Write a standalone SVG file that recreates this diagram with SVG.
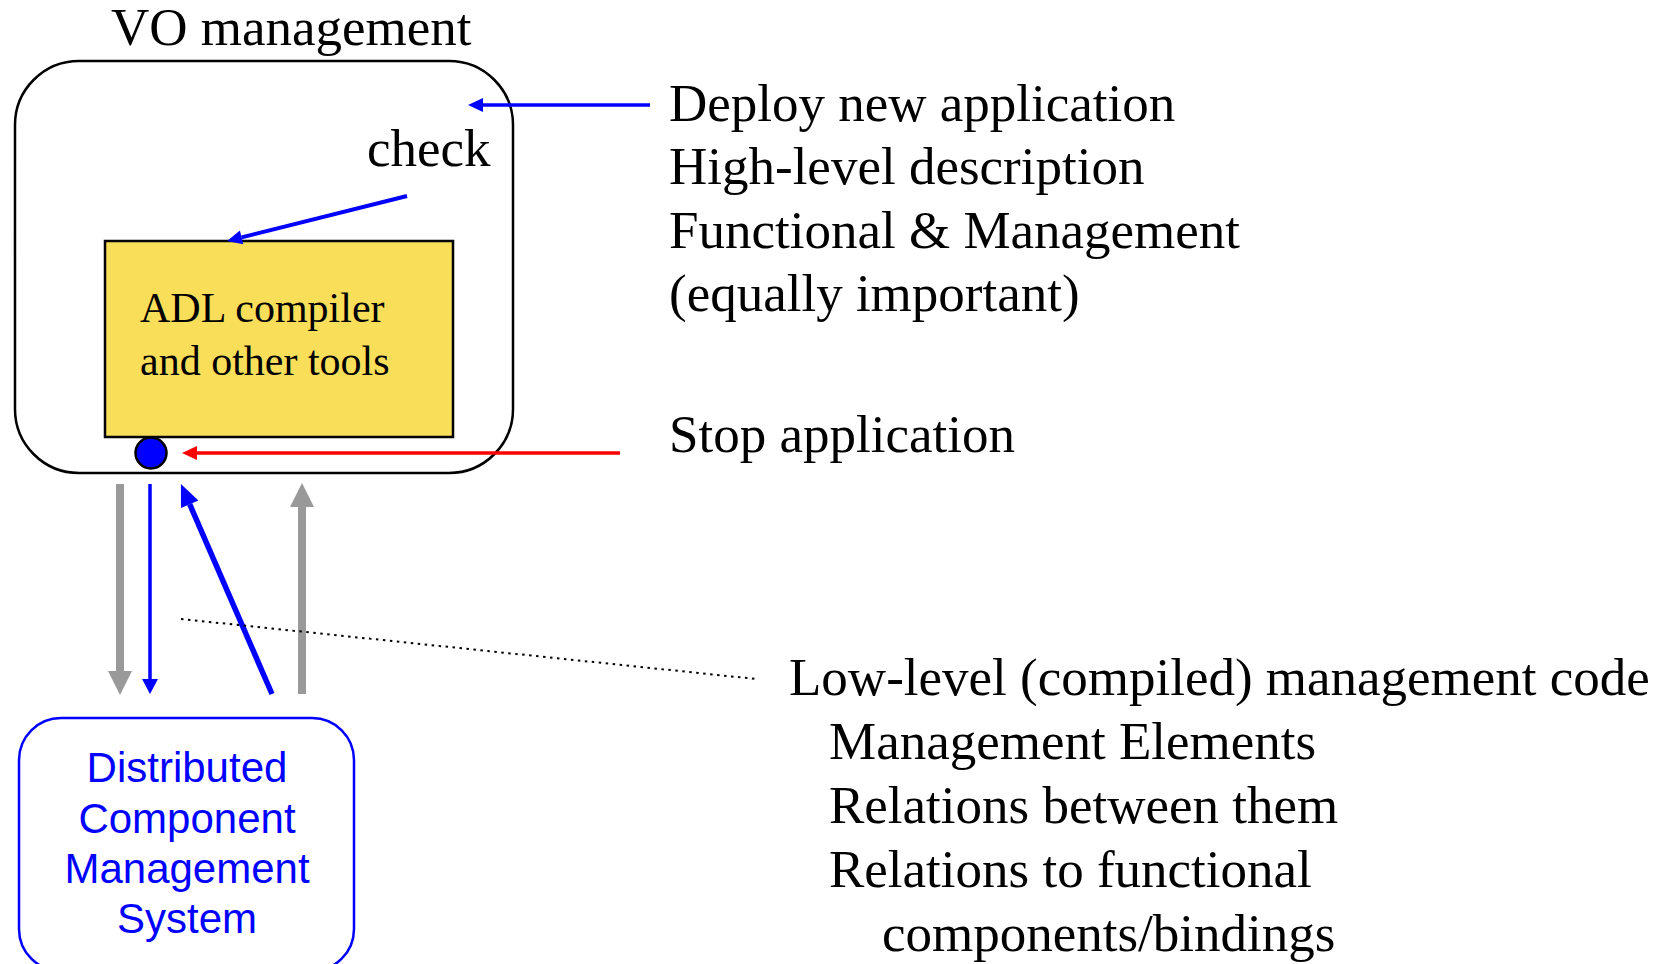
<svg xmlns="http://www.w3.org/2000/svg" width="1669" height="964" viewBox="0 0 1669 964">
  <style>
    .serif { font-family: "Liberation Serif", "Times New Roman", serif; fill: #000; }
    .big { font-size: 53px; }
    .mid { font-size: 42px; }
    .sans { font-family: "Liberation Sans", Arial, sans-serif; font-size: 42px; fill: #0000FF; text-anchor: middle; }
    .blue { stroke: #0000FF; fill: none; }
    .grey { stroke: #999999; fill: none; }
    .red { stroke: #FF0000; fill: none; }
  </style>
  <defs>
    <!-- arrowheads: origin sits at the head base, tip points along +x -->
    <marker id="headBlue" markerUnits="userSpaceOnUse" markerWidth="40" markerHeight="40" refX="0" refY="0" orient="auto" overflow="visible">
      <path d="M0,-7 L15,0 L0,7 Z" fill="#0000FF"/>
    </marker>
    <marker id="headBlueDown" markerUnits="userSpaceOnUse" markerWidth="40" markerHeight="40" refX="0" refY="0" orient="auto" overflow="visible">
      <path d="M0,-8 L15,0 L0,8 Z" fill="#0000FF"/>
    </marker>
    <marker id="headBlueBig" markerUnits="userSpaceOnUse" markerWidth="40" markerHeight="40" refX="0" refY="0" orient="auto" overflow="visible">
      <path d="M0,-9.5 L22,0 L0,9.5 Z" fill="#0000FF"/>
    </marker>
    <marker id="headRed" markerUnits="userSpaceOnUse" markerWidth="40" markerHeight="40" refX="0" refY="0" orient="auto" overflow="visible">
      <path d="M0,-7 L15,0 L0,7 Z" fill="#FF0000"/>
    </marker>
    <marker id="headGrey" markerUnits="userSpaceOnUse" markerWidth="40" markerHeight="40" refX="0" refY="0" orient="auto" overflow="visible">
      <path d="M0,-12 L24,0 L0,12 Z" fill="#999999"/>
    </marker>
  </defs>

  <rect width="1669" height="964" fill="#FFFFFF"/>

  <!-- VO management container -->
  <g id="vo-management">
    <rect x="15" y="61" width="498" height="412" rx="64" ry="64" fill="none" stroke="#000" stroke-width="2.5"/>
    <text class="serif big" x="111" y="45">VO management</text>
    <text class="serif big" x="367" y="166">check</text>
  </g>

  <!-- ADL compiler box -->
  <g id="adl-compiler">
    <rect x="105" y="241" width="348" height="196" fill="#F9DE59" stroke="#000" stroke-width="2.5"/>
    <text class="serif mid" x="140" y="322">ADL compiler</text>
    <text class="serif mid" x="140" y="375">and other tools</text>
  </g>

  <!-- control port -->
  <g id="port">
    <circle cx="151" cy="453" r="15.5" fill="#0000FF" stroke="#000" stroke-width="2.5"/>
  </g>

  <!-- Distributed Component Management System -->
  <g id="dcms">
    <rect x="19" y="718" width="335" height="253" rx="42" ry="42" fill="none" stroke="#0000FF" stroke-width="2.5"/>
    <text class="sans" x="187" y="782">Distributed</text>
    <text class="sans" x="187" y="833">Component</text>
    <text class="sans" x="187" y="883">Management</text>
    <text class="sans" x="187" y="933">System</text>
  </g>

  <!-- side notes -->
  <g id="notes-top">
    <text class="serif big" x="669" y="121">Deploy new application</text>
    <text class="serif big" x="669" y="184">High-level description</text>
    <text class="serif big" x="669" y="248">Functional &amp; Management</text>
    <text class="serif big" x="669" y="311">(equally important)</text>
  </g>
  <g id="notes-stop">
    <text class="serif big" x="669" y="452">Stop application</text>
  </g>
  <g id="notes-bottom">
    <text class="serif big" x="789" y="695">Low-level (compiled) management code</text>
    <text class="serif big" x="829" y="759">Management Elements</text>
    <text class="serif big" x="829" y="823">Relations between them</text>
    <text class="serif big" x="829" y="887">Relations to functional</text>
    <text class="serif big" x="882" y="951">components/bindings</text>
  </g>

  <!-- connectors -->
  <g id="connectors">
    <line class="blue" x1="650" y1="105" x2="483" y2="105" stroke-width="3.5" marker-end="url(#headBlue)"/>
    <line class="blue" x1="407" y1="196" x2="241.6" y2="237.4" stroke-width="4" marker-end="url(#headBlue)"/>
    <line class="red" x1="620" y1="453" x2="197" y2="453" stroke-width="3.5" marker-end="url(#headRed)"/>
    <line class="grey" x1="120" y1="484" x2="120" y2="671" stroke-width="8" marker-end="url(#headGrey)"/>
    <line class="blue" x1="150" y1="484" x2="150" y2="679" stroke-width="3.5" marker-end="url(#headBlueDown)"/>
    <line class="blue" x1="272" y1="694" x2="189.7" y2="504.2" stroke-width="5.5" marker-end="url(#headBlueBig)"/>
    <line class="grey" x1="302" y1="694" x2="302" y2="507" stroke-width="8" marker-end="url(#headGrey)"/>
    <line x1="181" y1="619" x2="756" y2="679" stroke="#000" stroke-width="2" stroke-dasharray="2.5 4.5"/>
  </g>
</svg>
